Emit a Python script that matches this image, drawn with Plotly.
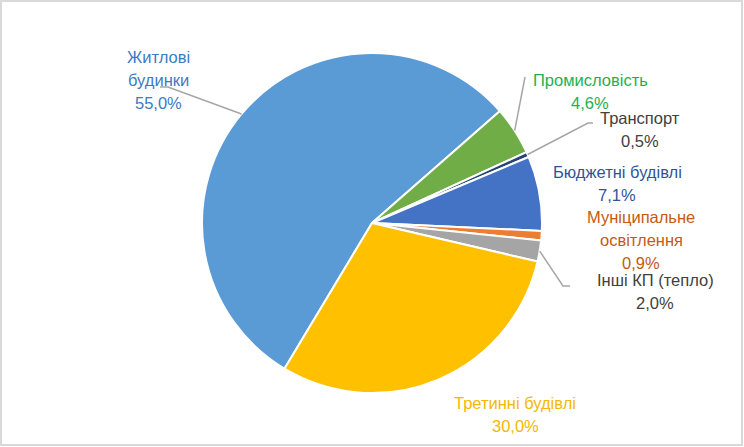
import math
import plotly.graph_objects as go

W, H = 744, 447

# sectors in the order they go round the pie (clockwise)
sectors = ["Житлові будинки", "Промисловість", "Транспорт", "Бюджетні будівлі",
           "Муніципальне освітлення", "Інші КП (тепло)", "Третинні будівлі"]
shares = [55.0, 4.6, 0.5, 7.1, 0.9, 2.0, 30.0]
slice_colors = ["#5B9BD5", "#70AD47", "#264478", "#4472C4", "#ED7D31", "#A5A5A5", "#FFC000"]
text_colors = ["#3A7CC2", "#1EB050", "#404040", "#2F5597", "#C55A11", "#404040", "#F5B800"]
label_lines = [["Житлові", "будинки"], ["Промисловість"], ["Транспорт"], ["Бюджетні будівлі"],
               ["Муніципальне", "освітлення"], ["Інші КП (тепло)"], ["Третинні будівлі"]]

START_ANGLE = 211  # first slice starts here, clockwise from 12 o'clock
CX, CY, R = 372, 223, 170  # pie centre / radius in px

# label block positions (px, centre of first line) and leader elbows
label_pos = [(158, 57), (590, 80), (640, 118), (617, 172), (641, 217), (655, 280), (515, 403)]
leaders = {0: [(160, 87), (168, 87)], 1: [(525, 77)], 2: [(593, 123), (588, 123)],
           5: [(570, 286), (563, 286)]}
LINE_H = 23


def px(x):
    return x / W


def py(y):
    return 1 - y / H


fig = go.Figure()
fig.add_trace(go.Pie(
    labels=sectors, values=shares, sort=False, direction="clockwise",
    rotation=START_ANGLE, textinfo="none", hoverinfo="label+value",
    marker=dict(colors=slice_colors, line=dict(color="white", width=2)),
    domain=dict(x=[px(CX - R), px(CX + R)], y=[py(CY + R), py(CY - R)]),
    showlegend=False,
))

annotations = []
shapes = []
total = sum(shares)
acc = 0
for i, (name, v) in enumerate(zip(sectors, shares)):
    lines = label_lines[i] + [f"{v:.1f}%".replace(".", ",")]
    x0, y0 = label_pos[i]
    for k, t in enumerate(lines):
        annotations.append(dict(
            x=px(x0), y=py(y0 + k * LINE_H), xref="paper", yref="paper",
            text=t, showarrow=False, xanchor="center", yanchor="middle",
            font=dict(family="Liberation Sans, Arial", size=16.5, color=text_colors[i]),
        ))
    mid = math.radians(START_ANGLE + (acc + v / 2) / total * 360)
    acc += v
    if i in leaders:
        ex, ey = CX + R * math.sin(mid), CY - R * math.cos(mid)
        pts = leaders[i] + [(ex, ey)]
        path = "M " + " L ".join(f"{px(a)},{py(b)}" for a, b in pts)
        shapes.append(dict(type="path", path=path, xref="paper", yref="paper",
                           line=dict(color="#A6A6A6", width=1.5)))

# chart frame
shapes.append(dict(type="rect", xref="paper", yref="paper",
                   x0=px(1), y0=py(H - 2), x1=px(W - 2), y1=py(1),
                   line=dict(color="#D9D9D9", width=2)))

fig.update_layout(
    width=W, height=H, margin=dict(l=0, r=0, t=0, b=0),
    paper_bgcolor="white", plot_bgcolor="white",
    annotations=annotations, shapes=shapes,
)

fig.write_html("out.html", config={"displayModeBar": False},
               post_script="document.body.style.margin = '0';")
